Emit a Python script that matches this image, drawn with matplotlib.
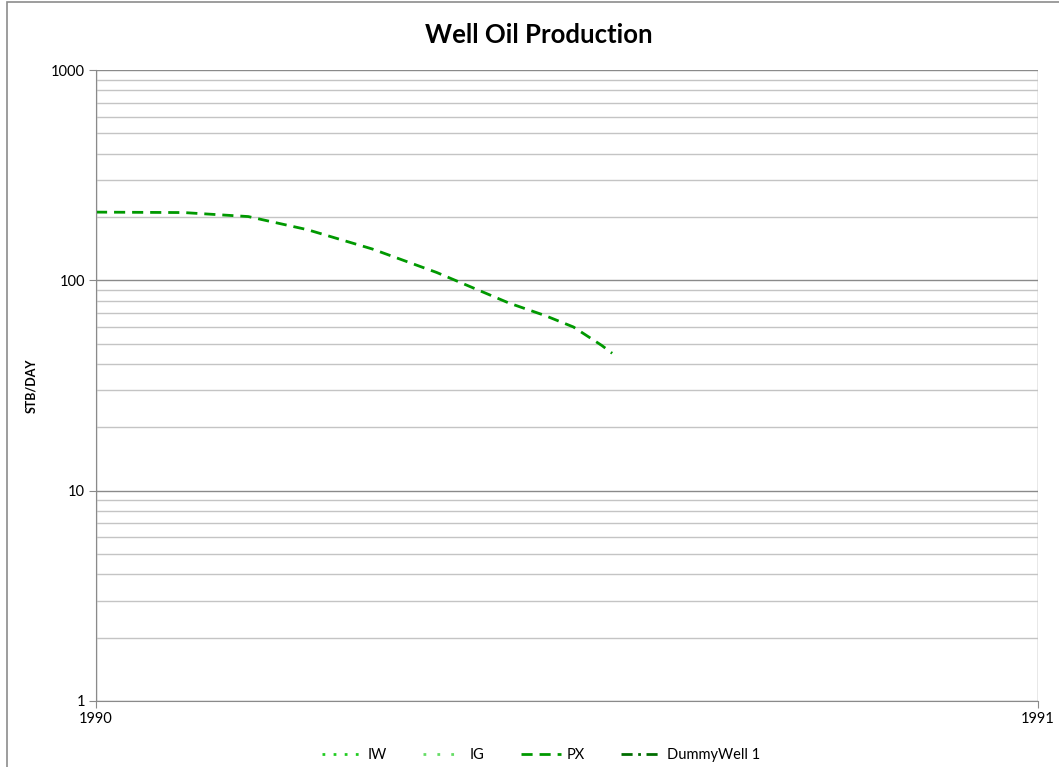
import matplotlib
matplotlib.use("Agg")
import matplotlib.pyplot as plt
import matplotlib.dates as mdates
from matplotlib.ticker import LogLocator, NullFormatter
from matplotlib.patches import Rectangle
import numpy as np
import datetime as dt

# --- data ---
px_days = [0, 34, 59, 82, 107, 132, 160, 174, 185, 196, 200]
px_rate = [211, 210, 201, 174, 141, 109, 78, 68, 60, 49, 45]

series_names = ["IW", "IG", "PX", "DummyWell 1"]
series_colors = ["#22cc22", "#66dd66", "#009900", "#006e00"]
series_styles = [(0, (1, 3)), (0, (1, 4)), (0, (4, 2.5)), (0, (4, 2, 1, 2))]

y_ticks = [1, 10, 100, 1000]
y_ticklabels = ["1", "10", "100", "1000"]

start = dt.datetime(1990, 1, 1)
end = dt.datetime(1991, 1, 1)
px_dates = [start + dt.timedelta(days=d) for d in px_days]

plt.rcParams['font.family'] = ['Lato', 'DejaVu Sans']

fig = plt.figure(figsize=(10.59, 7.67), dpi=100)
W, H = 1059, 767
# outer chart border (cut off on the right and bottom)
fig.patches.append(Rectangle((7 / W, -0.01), 1.1, 1 - 2 / H + 0.01,
                             transform=fig.transFigure, fill=False,
                             edgecolor="#8c8c8c", linewidth=1.2))

ax = fig.add_axes([96 / W, 1 - 701 / H, (1038 - 96) / W, (701 - 70) / H])

data = {"PX": (px_dates, px_rate)}
for name, col, ls in zip(series_names, series_colors, series_styles):
    xs, ys = data.get(name, ([], []))
    ax.plot(xs, ys, color=col, linestyle=ls, linewidth=2, label=name)

ax.set_yscale("log")
ax.set_ylim(1, 1000)
ax.set_xlim(start, end)

ax.yaxis.set_minor_locator(LogLocator(base=10, subs=np.arange(2, 10), numticks=10))
ax.set_yticks(y_ticks)
ax.set_yticklabels(y_ticklabels)
ax.yaxis.set_minor_formatter(NullFormatter())

ax.set_xticks([start, end])
ax.xaxis.set_major_formatter(mdates.DateFormatter("%Y"))

ax.grid(True, which="major", axis="y", color="#8a8a8a", linewidth=1)
ax.grid(True, which="minor", axis="y", color="#c4c4c4", linewidth=1)
ax.grid(True, which="major", axis="x", color="#8a8a8a", linewidth=1)
ax.set_axisbelow(True)

for side in ["top", "right"]:
    ax.spines[side].set_visible(False)
for side in ["left", "bottom"]:
    ax.spines[side].set_color("#8a8a8a")

ax.tick_params(axis="y", which="major", length=5, color="#8a8a8a", labelsize=10.5, pad=3)
ax.tick_params(axis="y", which="minor", length=0)
ax.tick_params(axis="x", which="major", length=5, color="#8a8a8a", labelsize=10.5, pad=3)

ax.set_ylabel("STB/DAY", fontsize=9, fontweight="bold")
ax.yaxis.set_label_coords((37 - 96) / 942, 0.5)
fig.text(539 / W, 1 - 35 / H, "Well Oil Production", ha="center", va="center",
         fontsize=18.5, fontweight="bold")

fig.legend(loc="center", bbox_to_anchor=(541 / W, 1 - 755 / H), ncol=4,
           frameon=False, fontsize=10.5, handlelength=2.8, handletextpad=0.35,
           columnspacing=2.5)

fig.savefig("out.png", dpi=100)
